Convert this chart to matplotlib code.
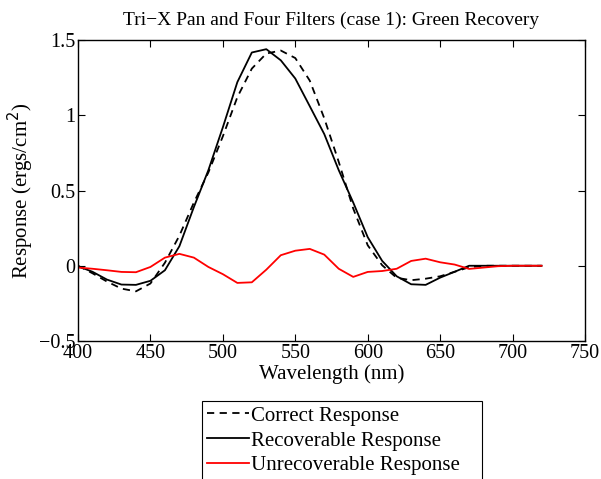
import matplotlib
matplotlib.use("Agg")
import matplotlib.pyplot as plt

wavelength = [400, 410, 420, 430, 440, 450, 460, 470, 480, 490, 500, 510, 520, 530, 540,
              550, 560, 570, 580, 590, 600, 610, 620, 630, 640, 650, 660, 670, 680, 690,
              700, 710, 720]
correct = [0.0, -0.05, -0.105, -0.152, -0.17, -0.118, 0.02, 0.2, 0.42, 0.62, 0.86, 1.12, 1.31,
           1.41, 1.43, 1.38, 1.23, 0.98, 0.69, 0.38, 0.136, 0.003, -0.08, -0.096, -0.086,
           -0.07, -0.04, -0.01, 0.0, 0.0, 0.0, 0.0, 0.0]
recoverable = [-0.003, -0.04, -0.092, -0.125, -0.127, -0.1, -0.03, 0.13, 0.39, 0.635, 0.92,
               1.22, 1.417, 1.439, 1.365, 1.244, 1.06, 0.875, 0.635, 0.42, 0.19, 0.032, -0.07,
               -0.123, -0.127, -0.079, -0.04, 0.0, 0.0, 0.0, 0.0, 0.0, 0.0]
unrecoverable = [-0.012, -0.02, -0.03, -0.041, -0.043, -0.008, 0.054, 0.079, 0.054, -0.008,
                 -0.056, -0.114, -0.11, -0.026, 0.07, 0.10, 0.112, 0.074, -0.02, -0.074,
                 -0.041, -0.035, -0.02, 0.032, 0.047, 0.023, 0.008, -0.021, -0.012, -0.003,
                 0.0, 0.0, 0.0]

xticks = [400, 450, 500, 550, 600, 650, 700, 750]
yticks = [-0.5, 0, 0.5, 1, 1.5]
ytick_labels = ["\u22120.5", "0", "0.5", "1", "1.5"]

plt.rcParams['font.family'] = ['Liberation Serif', 'DejaVu Serif']
plt.rcParams['font.size'] = 14

fig = plt.figure(figsize=(6.01, 4.79), dpi=100)
ax = fig.add_axes([78/601, 1-341/479, (585-78)/601, (341-40)/479])

l1, = ax.plot(wavelength, correct, color='black', linestyle='--', linewidth=1.3,
              dashes=(4, 3), label='Correct Response')
l2, = ax.plot(wavelength, recoverable, color='black', linewidth=1.3, label='Recoverable Response')
l3, = ax.plot(wavelength, unrecoverable, color='red', linewidth=1.3, label='Unrecoverable Response')

ax.set_xlim(400, 750)
ax.set_ylim(-0.5, 1.5)
ax.set_xticks(xticks)
ax.set_xticklabels([str(t) for t in xticks])
ax.set_yticks(yticks)
ax.set_yticklabels(ytick_labels)
ax.tick_params(direction='in', top=True, right=True, length=5, width=0.8, pad=2, labelsize=14.5)
for s in ax.spines.values():
    s.set_linewidth(1.0)

ax.set_title("Tri\u2212X Pan and Four Filters (case 1): Green Recovery", fontsize=14, pad=11)
ax.set_xlabel("Wavelength (nm)", fontsize=15, labelpad=1)
ax.set_ylabel("Response (ergs/cm$^2$)", fontsize=15, labelpad=2)

leg = fig.legend(handles=[l1, l2, l3], loc='upper left', mode='expand',
                 bbox_to_anchor=(202/601, 1-401/479 - 0.2, 280/601, 0.2), fontsize=15, frameon=True,
                 fancybox=False, edgecolor='black', framealpha=1, borderaxespad=0,
                 handlelength=2.0, handletextpad=0.1, labelspacing=0.25, borderpad=0.25)
leg.get_frame().set_linewidth(0.8)

fig.savefig("out.png", dpi=100)
